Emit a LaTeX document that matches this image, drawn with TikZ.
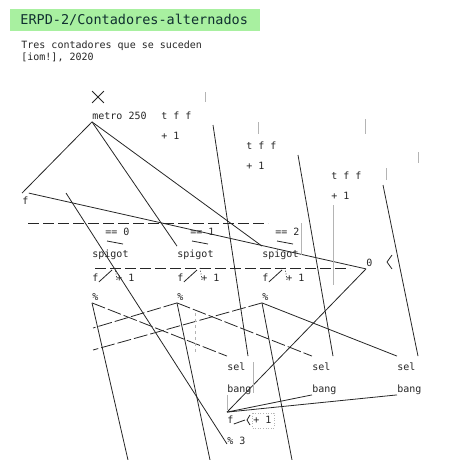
\documentclass[tikz,border=0pt]{standalone}
\usepackage{fontspec}
\usepackage{xcolor}
\setmainfont{DejaVu Sans Mono}
\usetikzlibrary{shapes.misc}
\definecolor{titlegreen}{HTML}{A8F0A0}
\definecolor{titleink}{HTML}{103030}
\definecolor{boxgrey}{HTML}{B4B4B4}

\begin{document}
\begin{tikzpicture}[x=1pt,y=1pt,line width=0.8pt,
  pdobj/.style={anchor=west,inner sep=0pt,text height=11pt,text depth=1.5pt,minimum height=13pt,font=\fontsize{10}{12}\selectfont,text=black!85},
  pdwire/.style={draw=black!85,line width=0.8pt},
  broken/.style={pdwire,dash pattern=on 14pt off 3pt},
  boxedge/.style={draw=boxgrey,line width=0.6pt},
  cut/.style={draw=black!85,dash pattern=on 11pt off 4pt}]
\useasboundingbox (0,0) rectangle (460,-460);

% title
\node[anchor=north west,fill=titlegreen,text=titleink,minimum height=22pt,text width=230pt,inner xsep=10pt,inner ysep=0pt,font=\fontsize{13.5}{16}\selectfont] (Title) at (10,-9) {ERPD-2/Contadores-alternados};
\node[pdobj] (NoteA) at (21,-44) {Tres contadores que se suceden};
\node[pdobj] (NoteB) at (21,-56) {[iom!], 2020};

% 1
\node[draw=black!85,cross out,minimum size=11pt,inner sep=0pt] (Toggle) at (98,-97) {};
\node[pdobj] (Metro) at (92,-115) {metro 250};
\node[pdobj] (TriggerA) at (161,-115) {t f f};
\node[pdobj] (PlusA) at (161,-135) {+ 1};
\node[pdobj] (TriggerB) at (246,-145) {t f f};
\node[pdobj] (PlusB) at (246,-165) {+ 1};
\node[pdobj] (TriggerC) at (331,-175) {t f f};
\node[pdobj] (PlusC) at (331,-195) {+ 1};
\node[pdobj] (FloatZ) at (22,-200) {f};

% 2
\node[pdobj] (EqualA) at (105,-231) {== 0};
\node[pdobj] (EqualB) at (190,-231) {== 1};
\node[pdobj] (EqualC) at (275,-231) {== 2};
\node[pdobj] (SpigotA) at (92,-253) {spigot};
\node[pdobj] (SpigotB) at (177,-253) {spigot};
\node[pdobj] (SpigotC) at (262,-253) {spigot};
\node[pdobj] (FloatA) at (92,-277) {f};
\node[pdobj] (IncA) at (116,-277) {+ 1};
\node[pdobj] (FloatB) at (177,-277) {f};
\node[pdobj] (IncB) at (201,-277) {+ 1};
\node[pdobj] (FloatC) at (262,-277) {f};
\node[pdobj] (IncC) at (286,-277) {+ 1};
\node[pdobj] (ModA) at (92,-296) {\%};
\node[pdobj] (ModB) at (177,-296) {\%};
\node[pdobj] (ModC) at (262,-296) {\%};
\node[pdobj] (MsgZero) at (366,-262) {0};

% 3
\node[pdobj] (SelA) at (227,-366) {sel};
\node[pdobj] (SelB) at (312,-366) {sel};
\node[pdobj] (SelC) at (397,-366) {sel};
\node[pdobj] (BangA) at (227,-388) {bang};
\node[pdobj] (BangB) at (312,-388) {bang};
\node[pdobj] (BangC) at (397,-388) {bang};
\node[pdobj] (FloatD) at (227,-419) {f};
\node[pdobj] (IncD) at (253,-419) {+ 1};
\node[pdobj] (ModD) at (227,-440) {\% 3};

\coordinate (WireA) at (213,-125);
\coordinate (WireB) at (298,-155);
\coordinate (WireC) at (383,-185);
\coordinate (LooseA) at (66,-193);
\coordinate (EdgeA) at (128,-460);
\coordinate (EdgeB) at (210,-460);
\coordinate (EdgeC) at (292,-460);
\coordinate (LeftA) at (93,-328);
\coordinate (LeftB) at (93,-350);

\draw[pdwire] (Metro.south west) -- (FloatZ.north west);
\draw[pdwire] (Metro.south west) -- (SpigotB.north west);
\draw[pdwire] (Metro.south west) -- (SpigotC.north west);
\draw[pdwire] (FloatZ.north east) -- (MsgZero.south west);
\draw[pdwire] (LooseA) -- ([yshift=-4pt]ModD.west);

\draw[pdwire] (WireA) -- ([xshift=21pt,yshift=3pt]SelA.north west);
\draw[pdwire] (WireB) -- ([xshift=21pt,yshift=3pt]SelB.north west);
\draw[pdwire] (WireC) -- ([xshift=21pt,yshift=3pt]SelC.north west);

\draw[broken] (ModA.south west) -- ([yshift=3pt]SelA.north west);
\draw[broken] (ModB.south west) -- ([yshift=3pt]SelB.north west);
\draw[pdwire] (ModC.south west) -- ([yshift=3pt]SelC.north west);
\draw[pdwire] (ModA.south west) -- (EdgeA);
\draw[pdwire] (ModB.south west) -- (EdgeB);
\draw[pdwire] (ModC.south west) -- (EdgeC);
\draw[broken] (ModB.south west) -- (LeftA);
\draw[broken] (ModC.south west) -- (LeftB);

\draw[pdwire] (BangB.south west) -- (FloatD.north west);
\draw[pdwire] (BangC.south west) -- (FloatD.north west);
\draw[pdwire] (FloatD.north west) -- (MsgZero.south west);

% short wires
\draw[pdwire] ([yshift=-5pt]FloatA.east) -- ([xshift=-4pt,yshift=7pt]IncA.west);
\draw[pdwire] ([yshift=-5pt]FloatB.east) -- ([xshift=-4pt,yshift=7pt]IncB.west);
\draw[pdwire] ([yshift=-5pt]FloatC.east) -- ([xshift=-4pt,yshift=7pt]IncC.west);
\draw[pdwire,dotted] ([xshift=-1pt,yshift=9pt]IncA.west) -- ([xshift=1pt,yshift=-3pt]IncA.west);
\draw[pdwire,dotted] ([xshift=-1pt,yshift=9pt]IncB.west) -- ([xshift=1pt,yshift=-3pt]IncB.west);
\draw[pdwire,dotted] ([xshift=-1pt,yshift=9pt]IncC.west) -- ([xshift=1pt,yshift=-3pt]IncC.west);
\draw[pdwire] ([xshift=2pt,yshift=-10pt]EqualA.west) -- ([xshift=18pt,yshift=-13pt]EqualA.west);
\draw[pdwire] ([xshift=2pt,yshift=-10pt]EqualB.west) -- ([xshift=18pt,yshift=-13pt]EqualB.west);
\draw[pdwire] ([xshift=2pt,yshift=-10pt]EqualC.west) -- ([xshift=18pt,yshift=-13pt]EqualC.west);
\draw[pdwire] ([yshift=-5pt]FloatD.east) -- ([xshift=-8pt,yshift=-1pt]IncD.west);
\draw[pdwire] ([xshift=-3pt,yshift=4pt]IncD.west) -- ([xshift=-6pt,yshift=-1pt]IncD.west) -- ([xshift=-3pt,yshift=-6pt]IncD.west);
\draw[pdwire] ([xshift=26pt,yshift=7pt]MsgZero.west) -- ([xshift=21pt]MsgZero.west) -- ([xshift=26pt,yshift=-7pt]MsgZero.west);

% cuts
\draw[cut] (28,-223) -- (268,-223);
\draw[cut] (95,-268) -- (350,-268);

% box edges
\draw[boxedge] (205,-92) -- (205,-102);
\draw[boxedge] (258,-122) -- (258,-134);
\draw[boxedge] (365,-119) -- (365,-134);
\draw[boxedge] (418,-152) -- (418,-163);
\draw[boxedge] (386,-168) -- (386,-180);
\draw[boxedge] (333,-205) -- (333,-285);
\draw[boxedge] (301,-223) -- (301,-255);
\draw[boxedge,dashed] (195,-313) -- (195,-355);
\draw[boxedge] (253,-362) -- (253,-393);
\draw[boxedge] (227,-395) -- (227,-410);
\draw[boxedge,dotted] (252,-413) rectangle (274,-428);

\end{tikzpicture}
\end{document}
